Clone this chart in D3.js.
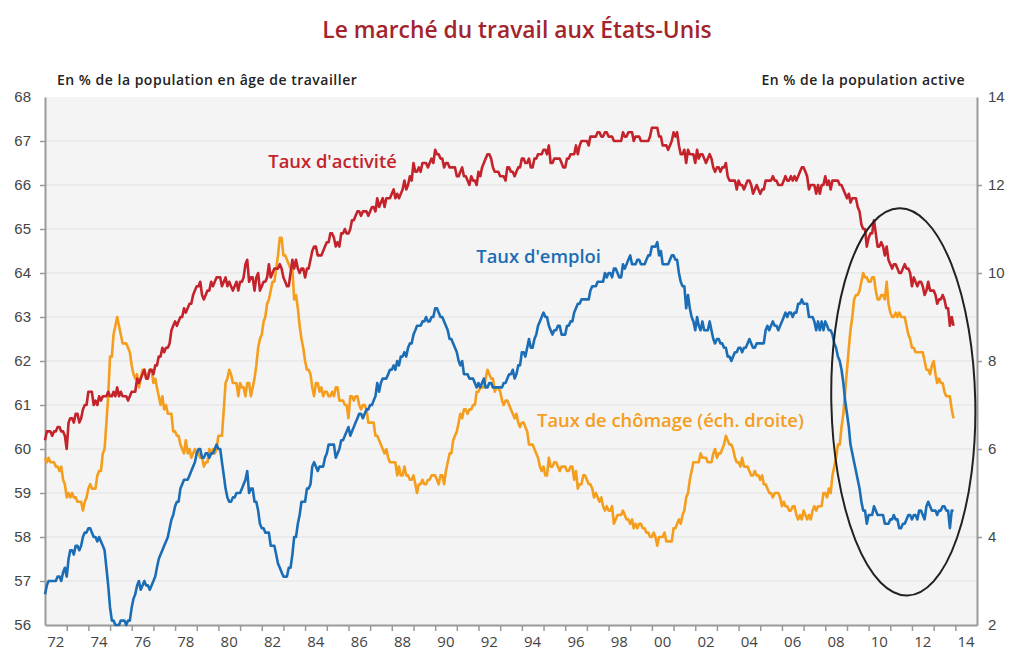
<!DOCTYPE html>
<html>
<head>
<meta charset="utf-8">
<script src="https://cdn.jsdelivr.net/npm/d3@7"></script>
<style>
  body { margin: 0; background: #fff; }
  svg { font-family: "Open Sans", "Noto Sans", sans-serif; }
  .tick text { fill: #444; font-size: 15px; }
  .domain { stroke: #9a9a9a; stroke-width: 2; }
  .tick line { stroke: #9a9a9a; stroke-width: 1.5; }
</style>
</head>
<body>
<div id="chart"></div>
<script>
// monthly values, January 1972 -> December 2013
var startYear = 1972;

// Taux d'activité (% of working-age population, left axis)
var activite = [
  60.2,60.4,60.4,60.4,60.3,60.4,60.4,60.5,60.5,60.4,60.4,60.3,
  60.0,60.6,60.7,60.7,60.6,60.8,60.8,60.6,60.7,60.9,61.0,61.0,
  61.3,61.3,61.3,61.0,61.1,61.0,61.2,61.1,61.2,61.2,61.2,61.3,
  61.2,61.2,61.3,61.2,61.4,61.2,61.3,61.2,61.2,61.2,61.1,61.2,
  61.3,61.3,61.3,61.6,61.5,61.6,61.7,61.8,61.6,61.6,61.8,61.8,
  61.7,61.9,61.9,62.1,62.1,62.3,62.2,62.3,62.3,62.4,62.7,62.8,
  62.9,62.8,62.9,63.0,63.0,63.2,63.1,63.2,63.3,63.3,63.5,63.6,
  63.7,63.7,63.8,63.5,63.4,63.5,63.6,63.6,63.8,63.7,63.8,63.9,
  63.9,63.9,63.7,63.8,63.9,63.7,63.8,63.7,63.6,63.7,63.8,63.6,
  63.8,63.8,63.9,64.2,64.3,63.8,63.9,63.9,63.6,63.9,64.0,63.6,
  63.7,63.8,63.8,63.9,64.2,63.9,64.0,64.1,64.1,64.1,64.2,64.1,
  63.9,63.8,63.7,63.7,64.0,64.3,64.1,64.3,64.1,64.0,64.1,64.1,
  63.9,64.1,64.1,64.3,64.5,64.6,64.6,64.4,64.4,64.4,64.5,64.6,
  64.7,64.7,64.9,64.9,64.8,64.6,64.7,64.6,64.9,64.9,65.0,64.9,
  64.9,65.0,65.2,65.2,65.3,65.4,65.4,65.3,65.4,65.4,65.4,65.3,
  65.4,65.5,65.5,65.4,65.7,65.5,65.6,65.7,65.5,65.7,65.7,65.7,
  65.8,65.9,65.7,65.8,65.7,65.8,65.9,66.1,65.9,66.0,66.2,66.1,
  66.5,66.3,66.3,66.4,66.3,66.5,66.5,66.5,66.4,66.5,66.6,66.5,
  66.8,66.7,66.7,66.6,66.6,66.4,66.5,66.5,66.4,66.4,66.4,66.4,
  66.2,66.2,66.3,66.4,66.2,66.2,66.1,66.0,66.2,66.1,66.1,66.0,
  66.3,66.2,66.4,66.5,66.6,66.7,66.7,66.6,66.4,66.3,66.3,66.3,
  66.2,66.2,66.2,66.1,66.4,66.4,66.3,66.3,66.2,66.3,66.4,66.4,
  66.6,66.6,66.5,66.5,66.6,66.4,66.4,66.6,66.6,66.7,66.7,66.7,
  66.8,66.8,66.7,66.9,66.5,66.5,66.6,66.6,66.6,66.6,66.5,66.4,
  66.4,66.6,66.6,66.7,66.7,66.7,66.9,66.7,66.9,67.0,67.0,67.0,
  67.0,66.9,67.1,67.1,67.1,67.1,67.2,67.2,67.1,67.1,67.2,67.2,
  67.1,67.1,67.1,67.0,67.0,67.0,67.0,67.0,67.2,67.1,67.1,67.2,
  67.2,67.2,67.0,67.1,67.1,67.1,67.0,67.0,67.0,67.0,67.0,67.1,
  67.3,67.3,67.3,67.3,67.1,67.1,66.9,66.9,66.9,66.8,66.9,67.0,
  67.2,67.1,67.2,66.9,66.7,66.7,66.8,66.5,66.8,66.7,66.7,66.7,
  66.5,66.8,66.6,66.7,66.7,66.6,66.5,66.6,66.7,66.6,66.4,66.3,
  66.4,66.4,66.3,66.4,66.4,66.5,66.2,66.1,66.1,66.1,66.1,65.9,
  66.1,66.0,66.0,65.9,66.0,66.1,66.1,66.0,65.8,65.9,66.0,65.9,
  65.8,65.9,65.9,66.1,66.1,66.1,66.1,66.2,66.1,66.1,66.0,66.0,
  66.0,66.1,66.2,66.1,66.1,66.2,66.1,66.2,66.1,66.2,66.3,66.4,
  66.4,66.3,66.2,65.9,66.0,66.0,66.0,65.8,66.0,65.8,66.0,66.0,
  66.2,66.0,66.1,65.9,66.1,66.1,66.1,66.1,66.0,66.0,65.9,65.8,
  65.7,65.8,65.6,65.7,65.7,65.7,65.5,65.4,65.1,65.0,65.0,64.6,
  64.8,64.9,64.9,65.2,64.9,64.6,64.6,64.7,64.6,64.4,64.6,64.3,
  64.2,64.1,64.2,64.2,64.1,64.0,64.0,64.1,64.2,64.1,64.1,64.0,
  63.7,63.9,63.8,63.7,63.8,63.8,63.7,63.5,63.6,63.8,63.6,63.6,
  63.6,63.5,63.3,63.4,63.4,63.5,63.4,63.2,63.2,62.8,63.0,62.8
];

// Taux d'emploi (% of working-age population, left axis)
var emploi = [
  56.7,56.9,57.0,57.0,57.0,57.0,57.0,57.1,57.1,57.0,57.2,57.3,
  57.1,57.5,57.7,57.7,57.6,57.8,57.8,57.7,57.8,58.0,58.1,58.1,
  58.2,58.2,58.1,58.0,58.0,57.9,58.0,57.9,57.8,57.7,57.3,56.9,
  56.4,56.1,56.1,56.0,56.0,56.0,56.1,56.1,56.1,56.0,56.1,56.1,
  56.4,56.6,56.7,56.9,57.0,56.8,56.9,57.0,56.9,56.9,56.8,56.9,
  57.0,57.1,57.3,57.5,57.6,57.7,57.8,57.9,58.0,58.2,58.4,58.5,
  58.7,58.8,58.8,59.1,59.2,59.3,59.3,59.3,59.4,59.5,59.6,59.7,
  59.9,60.0,60.0,59.8,59.8,59.9,59.9,59.8,59.9,59.9,60.0,60.1,
  60.0,60.0,59.7,59.4,59.1,58.9,58.8,58.8,58.9,58.9,59.0,59.0,
  59.0,59.1,59.2,59.3,59.5,59.0,59.1,59.1,58.8,58.8,58.6,58.3,
  58.2,58.2,58.1,58.1,58.1,57.8,57.8,57.8,57.6,57.4,57.3,57.2,
  57.1,57.1,57.1,57.3,57.3,57.6,58.0,58.0,58.3,58.5,58.8,58.8,
  58.8,59.1,59.1,59.2,59.6,59.7,59.6,59.5,59.6,59.6,59.6,59.8,
  59.9,60.1,60.1,60.1,60.1,59.8,59.9,60.0,60.2,60.2,60.3,60.4,
  60.5,60.3,60.4,60.5,60.6,60.7,60.8,60.8,60.7,60.8,60.9,60.9,
  61.0,61.0,61.1,61.2,61.5,61.3,61.5,61.6,61.6,61.6,61.7,61.8,
  61.8,61.9,61.8,62.0,61.9,62.1,62.1,62.2,62.1,62.3,62.4,62.4,
  62.6,62.7,62.8,62.8,62.8,62.9,62.9,63.0,62.9,62.9,63.0,63.0,
  63.2,63.2,63.1,63.0,63.0,62.9,62.8,62.7,62.5,62.5,62.4,62.3,
  62.2,62.0,61.9,62.0,61.7,61.7,61.7,61.6,61.6,61.6,61.5,61.4,
  61.5,61.4,61.5,61.6,61.4,61.4,61.5,61.5,61.4,61.4,61.4,61.4,
  61.4,61.4,61.5,61.5,61.6,61.7,61.7,61.8,61.6,61.7,61.9,61.9,
  62.2,62.2,62.1,62.3,62.5,62.3,62.3,62.5,62.6,62.8,62.9,63.0,
  63.1,63.0,63.0,62.8,62.7,62.6,62.7,62.7,62.8,62.8,62.6,62.6,
  62.6,62.8,62.8,62.9,62.9,63.1,63.2,63.3,63.3,63.4,63.4,63.4,
  63.4,63.4,63.6,63.7,63.7,63.7,63.8,63.8,63.8,63.8,64.0,63.9,
  64.0,64.0,63.9,64.1,64.1,64.0,63.9,63.9,64.2,64.1,64.2,64.3,
  64.4,64.2,64.2,64.2,64.3,64.3,64.2,64.2,64.2,64.3,64.4,64.4,
  64.6,64.6,64.6,64.7,64.4,64.5,64.2,64.2,64.2,64.2,64.3,64.4,
  64.4,64.3,64.3,64.0,63.8,63.7,63.7,63.2,63.5,63.2,63.0,62.9,
  62.7,63.0,62.8,62.7,62.9,62.7,62.7,62.7,62.9,62.7,62.5,62.4,
  62.5,62.5,62.4,62.4,62.3,62.3,62.1,62.1,62.0,62.1,62.2,62.2,
  62.3,62.3,62.2,62.3,62.3,62.4,62.5,62.4,62.3,62.3,62.4,62.4,
  62.4,62.4,62.4,62.7,62.8,62.7,62.8,62.9,62.8,62.8,62.7,62.8,
  62.9,63.0,63.1,63.0,63.1,63.1,63.0,63.1,63.1,63.3,63.3,63.4,
  63.3,63.3,63.3,63.0,63.0,63.0,62.9,62.7,62.9,62.7,62.9,62.7,
  62.9,62.8,62.7,62.7,62.6,62.4,62.3,62.1,62.0,61.8,61.5,61.1,
  60.8,60.5,60.1,59.9,59.7,59.5,59.3,59.1,58.8,58.6,58.6,58.3,
  58.5,58.5,58.5,58.7,58.6,58.5,58.5,58.5,58.5,58.3,58.3,58.3,
  58.4,58.4,58.5,58.4,58.4,58.2,58.2,58.3,58.3,58.4,58.5,58.5,
  58.4,58.5,58.5,58.4,58.6,58.6,58.5,58.4,58.7,58.8,58.7,58.6,
  58.6,58.6,58.5,58.6,58.6,58.7,58.7,58.6,58.6,58.2,58.6,58.6
];

// Taux de chômage (% of labour force, right axis)
var chomage = [
  5.8,5.7,5.8,5.7,5.7,5.7,5.6,5.6,5.5,5.6,5.3,5.2,
  4.9,5.0,4.9,5.0,4.9,4.9,4.8,4.8,4.8,4.6,4.8,4.9,
  5.1,5.2,5.1,5.1,5.1,5.4,5.5,5.5,5.9,6.0,6.6,7.2,
  8.1,8.1,8.6,8.8,9.0,8.8,8.6,8.4,8.4,8.4,8.3,8.2,
  7.9,7.7,7.6,7.7,7.4,7.6,7.8,7.8,7.6,7.7,7.8,7.8,
  7.5,7.6,7.4,7.2,7.0,7.2,6.9,7.0,6.8,6.8,6.8,6.4,
  6.4,6.3,6.3,6.1,6.0,5.9,6.2,5.9,6.0,5.8,5.9,6.0,
  5.9,5.9,5.8,5.8,5.6,5.7,5.7,6.0,5.9,6.0,5.9,6.0,
  6.3,6.3,6.3,6.9,7.5,7.6,7.8,7.7,7.5,7.5,7.5,7.2,
  7.5,7.4,7.4,7.2,7.5,7.5,7.2,7.4,7.6,7.9,8.3,8.5,
  8.6,8.9,9.0,9.3,9.4,9.6,9.8,9.8,10.1,10.4,10.8,10.8,
  10.4,10.4,10.3,10.2,10.1,10.1,9.4,9.5,9.2,8.8,8.5,8.3,
  8.0,7.8,7.8,7.7,7.4,7.2,7.5,7.5,7.3,7.4,7.2,7.3,
  7.3,7.2,7.2,7.3,7.2,7.4,7.4,7.1,7.1,7.1,7.0,7.0,
  6.7,7.2,7.2,7.1,7.2,7.2,7.0,6.9,7.0,7.0,6.9,6.6,
  6.6,6.6,6.6,6.3,6.3,6.2,6.1,6.0,5.9,6.0,5.8,5.7,
  5.7,5.7,5.7,5.4,5.6,5.4,5.4,5.6,5.4,5.4,5.3,5.3,
  5.4,5.2,5.0,5.2,5.2,5.3,5.2,5.2,5.3,5.3,5.4,5.4,
  5.4,5.3,5.2,5.4,5.4,5.2,5.5,5.7,5.9,5.9,6.2,6.3,
  6.4,6.6,6.8,6.7,6.9,6.9,6.8,6.9,6.9,7.0,7.0,7.3,
  7.3,7.4,7.4,7.4,7.6,7.8,7.7,7.6,7.6,7.3,7.4,7.4,
  7.3,7.1,7.0,7.1,7.1,7.0,6.9,6.8,6.7,6.8,6.6,6.5,
  6.6,6.6,6.5,6.4,6.1,6.1,6.1,6.0,5.9,5.8,5.6,5.5,
  5.6,5.4,5.4,5.8,5.6,5.6,5.7,5.7,5.6,5.5,5.6,5.6,
  5.6,5.5,5.5,5.6,5.6,5.3,5.5,5.1,5.2,5.2,5.4,5.4,
  5.3,5.2,5.2,5.1,4.9,5.0,4.9,4.8,4.9,4.7,4.6,4.7,
  4.6,4.6,4.7,4.3,4.4,4.5,4.5,4.5,4.6,4.5,4.4,4.4,
  4.3,4.4,4.2,4.3,4.2,4.3,4.3,4.2,4.2,4.1,4.1,4.0,
  4.0,4.1,4.0,3.8,4.0,4.0,4.0,4.1,3.9,3.9,3.9,3.9,
  4.2,4.2,4.3,4.4,4.3,4.5,4.6,4.9,5.0,5.3,5.5,5.7,
  5.7,5.7,5.7,5.9,5.8,5.8,5.8,5.7,5.7,5.7,5.9,6.0,
  5.8,5.9,5.9,6.0,6.1,6.3,6.2,6.1,6.1,6.0,5.8,5.7,
  5.7,5.6,5.8,5.6,5.6,5.6,5.5,5.4,5.4,5.5,5.4,5.4,
  5.3,5.4,5.2,5.2,5.1,5.0,5.0,4.9,5.0,5.0,5.0,4.9,
  4.7,4.8,4.7,4.7,4.6,4.6,4.7,4.7,4.5,4.4,4.5,4.4,
  4.6,4.5,4.4,4.5,4.4,4.6,4.7,4.6,4.7,4.7,4.7,5.0,
  5.0,4.9,5.1,5.0,5.4,5.6,5.8,6.1,6.1,6.5,6.8,7.3,
  7.8,8.3,8.7,9.0,9.4,9.5,9.5,9.6,9.8,10.0,9.9,9.9,
  9.8,9.8,9.9,9.9,9.6,9.4,9.4,9.5,9.5,9.4,9.8,9.3,
  9.1,9.0,9.0,9.1,9.0,9.1,9.0,9.0,9.0,8.8,8.6,8.5,
  8.3,8.3,8.2,8.2,8.2,8.2,8.2,8.0,7.8,7.8,7.7,7.9,
  8.0,7.7,7.5,7.6,7.5,7.5,7.3,7.2,7.2,7.2,6.9,6.7
];

var leftTicks = [56, 57, 58, 59, 60, 61, 62, 63, 64, 65, 66, 67, 68];
var rightTicks = [2, 4, 6, 8, 10, 12, 14];
var yearLabels = ["72","74","76","78","80","82","84","86","88","90","92",
  "94","96","98","00","02","04","06","08","10","12","14"];

var seriesNames = ["Taux d'activité", "Taux d'emploi", "Taux de chômage (éch. droite)"];
var seriesColors = ["#c4232c", "#1b6db5", "#f59d1c"];
// label anchors: [decimal year, value on the series' axis]
var labelAnchors = [[1982.3, 66.39], [1991.9, 64.23], [1994.7, 6.5]];
// ellipse round the 2008-2013 period: centre [year, left-axis value], radii [years, points]
var ellipseCentre = [2011.6, 61.07];
var ellipseRadii = [3.32, 4.4];

var width = 1013, height = 655;
var margin = { top: 97, right: 36, bottom: 30, left: 45 };

var svg = d3.select("#chart")
  .append("svg")
    .attr("width", width)
    .attr("height", height);

function yearDate(y) {
  var yr = Math.floor(y);
  var start = new Date(yr, 0, 1), end = new Date(yr + 1, 0, 1);
  return new Date(+start + (y - yr) * (end - start));
}

var x = d3.scaleTime()
  .domain([new Date(1972, 0, 1), new Date(2015, 0, 1)])
  .range([margin.left, width - margin.right]);
var yLeft = d3.scaleLinear()
  .domain([56, 68])
  .range([height - margin.bottom, margin.top]);
var yRight = d3.scaleLinear()
  .domain([2, 14])
  .range([height - margin.bottom, margin.top]);

function monthly(values) {
  return values.map(function(v, i) {
    return { date: new Date(startYear + Math.floor(i / 12), i % 12, 1), value: v };
  });
}

// background and grid
svg.append("rect")
  .attr("x", margin.left)
  .attr("y", margin.top)
  .attr("width", width - margin.right - margin.left)
  .attr("height", height - margin.bottom - margin.top)
  .attr("fill", "#f4f4f4");

svg.append("g")
  .selectAll("line")
  .data(leftTicks.slice(1, -1))
  .enter().append("line")
    .attr("x1", margin.left)
    .attr("x2", width - margin.right)
    .attr("y1", function(d) { return yLeft(d); })
    .attr("y2", function(d) { return yLeft(d); })
    .attr("stroke", "#e2e2e2")
    .attr("stroke-width", 1);

// axes
var yAxisLeft = svg.append("g")
  .attr("transform", "translate(" + margin.left + ",0)")
  .call(d3.axisLeft(yLeft).tickValues(leftTicks).tickSize(5).tickPadding(9).tickSizeOuter(0));
yAxisLeft.selectAll(".tick").filter(function(d) { return d == 56 || d == 68; }).select("line").remove();

var yAxisRight = svg.append("g")
  .attr("transform", "translate(" + (width - margin.right) + ",0)")
  .call(d3.axisRight(yRight).tickValues(rightTicks).tickSize(5).tickPadding(6).tickSizeOuter(0));
yAxisRight.selectAll(".tick").filter(function(d) { return d == 2 || d == 14; }).select("line").remove();

var years = d3.range(1973, 2015).map(function(y) { return new Date(y, 0, 1); });
var xAxis = svg.append("g")
  .attr("transform", "translate(0," + (height - margin.bottom) + ")")
  .call(d3.axisBottom(x).tickValues(years).tickSize(6).tickFormat("").tickSizeOuter(0));

svg.append("g")
  .selectAll("text")
  .data(yearLabels)
  .enter().append("text")
    .attr("x", function(d, i) { return x(new Date(1972 + 2 * i, 6, 1)); })
    .attr("y", height - margin.bottom + 22)
    .attr("text-anchor", "middle")
    .attr("fill", "#444")
    .style("font-size", "15px")
    .text(function(d) { return d; });

// series
var line = d3.line()
  .x(function(d) { return x(d.date); });

var series = [
  { data: monthly(activite), scale: yLeft },
  { data: monthly(emploi), scale: yLeft },
  { data: monthly(chomage), scale: yRight }
];
var drawOrder = [2, 0, 1];
drawOrder.forEach(function(k) {
  var s = series[k];
  svg.append("path")
    .attr("d", line.y(function(d) { return s.scale(d.value); })(s.data))
    .attr("fill", "none")
    .attr("stroke", seriesColors[k])
    .attr("stroke-width", 2.6)
    .attr("stroke-linejoin", "round");
});

// series labels
series.forEach(function(s, k) {
  svg.append("text")
    .attr("x", x(yearDate(labelAnchors[k][0])))
    .attr("y", s.scale(labelAnchors[k][1]))
    .attr("fill", seriesColors[k])
    .style("font-size", "18.4px")
    .style("font-weight", 600)
    .text(seriesNames[k]);
});

// ellipse annotation
var ecx = x(yearDate(ellipseCentre[0])), ecy = yLeft(ellipseCentre[1]);
svg.append("ellipse")
  .attr("cx", ecx)
  .attr("cy", ecy)
  .attr("rx", x(yearDate(ellipseCentre[0] + ellipseRadii[0])) - ecx)
  .attr("ry", yLeft(ellipseCentre[1] - ellipseRadii[1]) - ecy)
  .attr("transform", "rotate(-1.2," + ecx + "," + ecy + ")")
  .attr("fill", "none")
  .attr("stroke", "#222")
  .attr("stroke-width", 2);

// titles
svg.append("text")
  .attr("x", 517)
  .attr("y", 38)
  .attr("text-anchor", "middle")
  .attr("fill", "#a3242c")
  .style("font-size", "22.8px")
  .style("font-weight", 600)
  .text("Le marché du travail aux États-Unis");

svg.append("text")
  .attr("x", 57)
  .attr("y", 85)
  .attr("fill", "#222")
  .style("font-size", "14px")
  .style("letter-spacing", "0.5px")
  .style("font-weight", 600)
  .text("En % de la population en âge de travailler");

svg.append("text")
  .attr("x", 965)
  .attr("y", 85)
  .attr("text-anchor", "end")
  .attr("fill", "#222")
  .style("font-size", "14px")
  .style("letter-spacing", "0.5px")
  .style("font-weight", 600)
  .text("En % de la population active");
</script>
</body>
</html>
